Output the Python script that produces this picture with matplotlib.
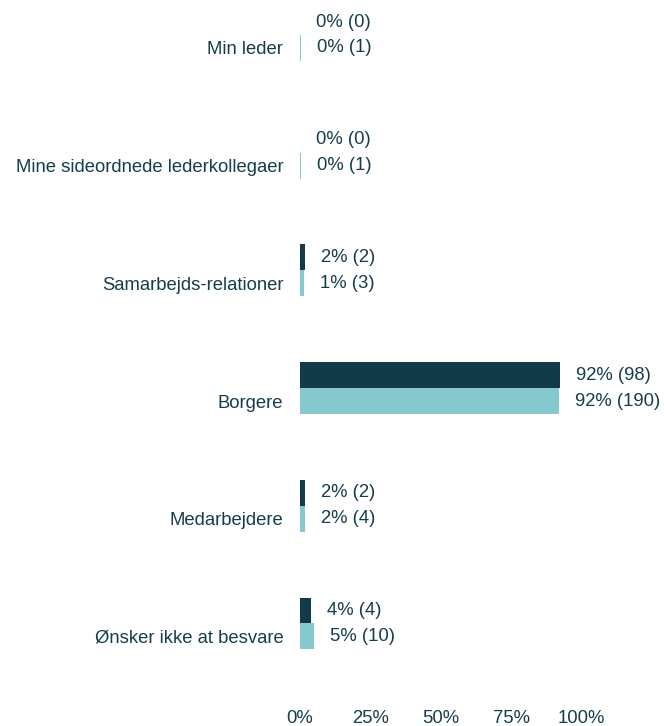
import matplotlib
matplotlib.use("Agg")
import matplotlib.pyplot as plt

plt.rcParams.update({
    "font.family": ["Liberation Sans", "DejaVu Sans"],
    "font.size": 13.3,
})

categories = ["Min leder", "Mine sideordnede lederkollegaer", "Samarbejds-relationer",
              "Borgere", "Medarbejdere", "Ønsker ikke at besvare"]
dark_vals = [0.0, 0.0, 1.9, 92.2, 1.9, 3.8]
light_vals = [0.5, 0.5, 1.5, 92.0, 1.9, 4.8]
dark_labels = ["0% (0)", "0% (0)", "2% (2)", "92% (98)", "2% (2)", "4% (4)"]
light_labels = ["0% (1)", "0% (1)", "1% (3)", "92% (190)", "2% (4)", "5% (10)"]
xticks = [0, 25, 50, 75, 100]

DARK = "#133a47"
LIGHT = "#85c9cf"
TXT = "#163e4a"

fig = plt.figure(figsize=(6.64, 7.26), dpi=100)
ax = fig.add_axes([300 / 664, 26 / 726, 281.5 / 664, 700 / 726])

h = 0.22
ys = list(range(len(categories)))
ax.barh([y - h / 2 for y in ys], dark_vals, height=h, color=DARK)
ax.barh([y + h / 2 for y in ys], light_vals, height=h, color=LIGHT)

for y, v, s in zip(ys, dark_vals, dark_labels):
    ax.annotate(s, (v, y - h / 2), xytext=(16, 0), textcoords="offset pixels",
                va="center", ha="left", color=TXT)
for y, v, s in zip(ys, light_vals, light_labels):
    ax.annotate(s, (v, y + h / 2), xytext=(16, 0), textcoords="offset pixels",
                va="center", ha="left", color=TXT)

ax.set_xlim(0, 100)
ax.set_ylim(5.65, -0.297)
ax.set_yticks([y + h / 2 for y in ys])
ax.set_yticklabels(categories, color=TXT)
ax.set_xticks(xticks)
ax.set_xticklabels([f"{t}%" for t in xticks], color=TXT)
ax.tick_params(axis="y", length=0, pad=12)
ax.tick_params(axis="x", length=0, pad=7.5)
for sp in ax.spines.values():
    sp.set_visible(False)

fig.savefig("out.png", dpi=100)
